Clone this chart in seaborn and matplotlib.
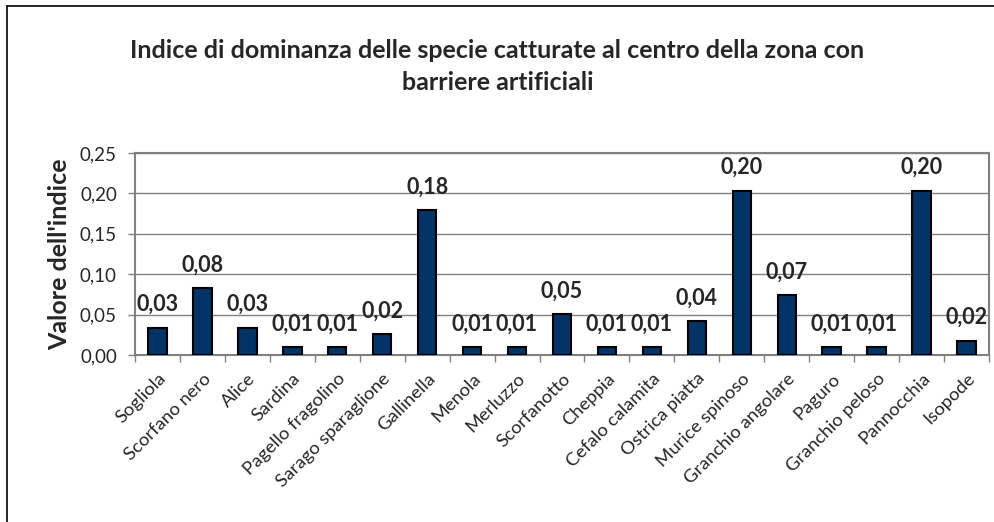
import numpy as np
import matplotlib
matplotlib.use('Agg')
import matplotlib.pyplot as plt
import seaborn as sns
from matplotlib.lines import Line2D
from matplotlib.ticker import FuncFormatter, FixedLocator

# Dati: indice di dominanza per specie
specie = ['Sogliola', 'Scorfano nero', 'Alice', 'Sardina', 'Pagello fragolino',
          'Sarago sparaglione', 'Gallinella', 'Menola', 'Merluzzo', 'Scorfanotto',
          'Cheppia', 'Cefalo calamita', 'Ostrica piatta', 'Murice spinoso',
          'Granchio angolare', 'Paguro', 'Granchio peloso', 'Pannocchia', 'Isopode']
indice = [0.034, 0.0825, 0.034, 0.0099, 0.0099,
          0.0256, 0.1795, 0.0099, 0.0099, 0.0504,
          0.0099, 0.0099, 0.042, 0.2035,
          0.0745, 0.0099, 0.0099, 0.2035, 0.0177]
# etichette come scritte sul grafico originale
etichette = ['0,03', '0,08', '0,03', '0,01', '0,01',
             '0,02', '0,18', '0,01', '0,01', '0,05',
             '0,01', '0,01', '0,04', '0,20',
             '0,07', '0,01', '0,01', '0,20', '0,02']
y_ticks = [0.0, 0.05, 0.10, 0.15, 0.20, 0.25]

sns.set_theme(style='white')
plt.rcParams['font.family'] = ['Lato', 'DejaVu Sans']

fig = plt.figure(figsize=(9.95, 5.22), dpi=100)
ax = fig.add_axes([135 / 995, 1 - 355 / 522, (989 - 135) / 995, (355 - 153) / 522])

sns.barplot(x=specie, y=indice, color='#003366', width=0.41,
            edgecolor='black', linewidth=1.5, saturation=1, ax=ax, zorder=3)

ax.set_ylim(0, 0.25)
ax.set_xlim(-0.5, len(specie) - 0.5)
ax.set_yticks(y_ticks)
ax.yaxis.set_major_formatter(FuncFormatter(lambda v, p: f'{v:.2f}'.replace('.', ',')))
ax.grid(axis='y', color='#808080', linewidth=1, zorder=0)

# tacche tra le categorie
ax.xaxis.set_minor_locator(FixedLocator(np.arange(-0.5, len(specie), 1.0)))
ax.set_xticks(range(len(specie)))
ax.set_xticklabels(specie, rotation=45, ha='right', va='top', rotation_mode='anchor', fontsize=13.3)
ax.tick_params(axis='x', which='major', length=0, pad=11)
ax.tick_params(axis='x', which='minor', length=5, width=1, color='#808080', direction='out', bottom=True)
ax.tick_params(axis='y', length=5, width=1, color='#808080', direction='out', left=True,
               labelsize=13.5, pad=8)

for s in ax.spines.values():
    s.set_color('#808080')
    s.set_linewidth(1.5)

ax.bar_label(ax.containers[0], labels=etichette, padding=9, fontsize=15.5, fontweight='bold')

ax.set_ylabel("Valore dell'indice", fontsize=18, fontweight='bold', labelpad=6)
ax.set_xlabel('')

fig.text(0.5, 1 - 50 / 522, 'Indice di dominanza delle specie catturate al centro della zona con',
         ha='center', va='center', fontsize=18, fontweight='bold')
fig.text(0.5, 1 - 82 / 522, 'barriere artificiali',
         ha='center', va='center', fontsize=18, fontweight='bold')

# bordo esterno del grafico
fig.add_artist(Line2D([7 / 995, 7 / 995], [0, 1 - 6 / 522], color='black', linewidth=1.2))
fig.add_artist(Line2D([7 / 995, 1], [1 - 6 / 522, 1 - 6 / 522], color='black', linewidth=1.2))

fig.savefig('out.png', dpi=100)
